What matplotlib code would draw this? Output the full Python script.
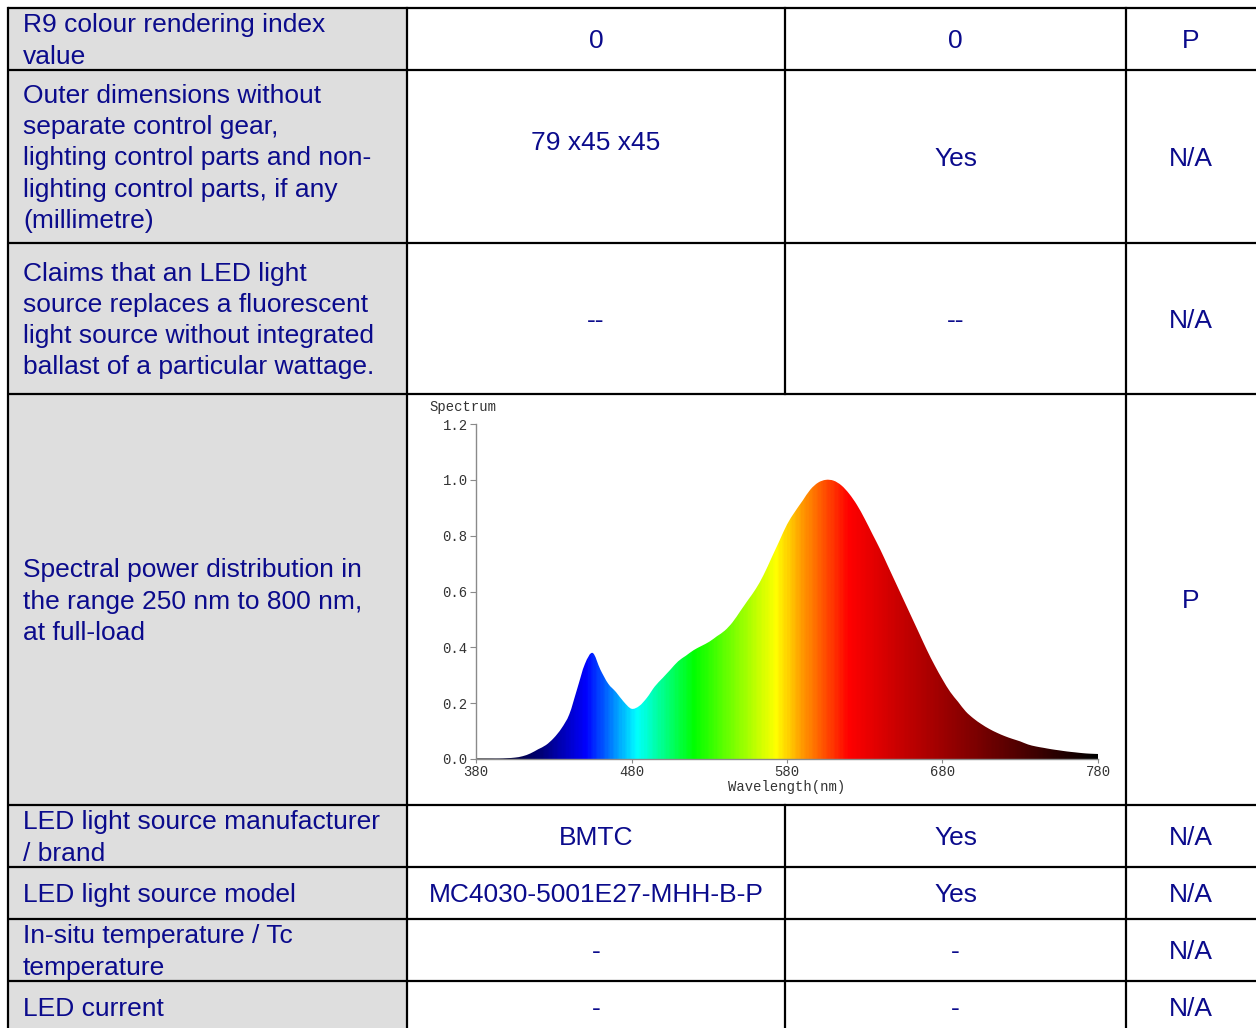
import numpy as np
import matplotlib
matplotlib.use("Agg")
import matplotlib.pyplot as plt
from matplotlib.patches import Rectangle
from matplotlib.path import Path
from matplotlib.colors import LinearSegmentedColormap

# table content
labels = [
    "R9 colour rendering index\nvalue",
    "Outer dimensions without\nseparate control gear,\nlighting control parts and non-\nlighting control parts, if any\n(millimetre)",
    "Claims that an LED light\nsource replaces a fluorescent\nlight source without integrated\nballast of a particular wattage.",
    "Spectral power distribution in\nthe range 250 nm to 800 nm,\nat full-load",
    "LED light source manufacturer\n/ brand",
    "LED light source model",
    "In-situ temperature / Tc\ntemperature",
    "LED current",
]
declared = ["0", "79 x45 x45", "--", None, "BMTC", "MC4030-5001E27-MHH-B-P", "-", "-"]
measured = ["0", "Yes", "--", None, "Yes", "Yes", "-", "-"]
verdict = ["P", "N/A", "N/A", "P", "N/A", "N/A", "N/A", "N/A"]

# spectrum, every 5 nm
wavelength = np.arange(380, 781, 5)
power = [
    0.002, 0.002, 0.002, 0.002, 0.003, 0.005, 0.010, 0.020, 0.035, 0.050,
    0.075, 0.110, 0.160, 0.250, 0.340, 0.380, 0.320, 0.270, 0.240, 0.205,
    0.180, 0.190, 0.220, 0.260, 0.290, 0.320, 0.350, 0.370, 0.390, 0.405,
    0.420, 0.440, 0.460, 0.490, 0.530, 0.570, 0.610, 0.660, 0.720, 0.780,
    0.840, 0.885, 0.925, 0.965, 0.990, 1.000, 0.997, 0.980, 0.950, 0.910,
    0.860, 0.805, 0.750, 0.690, 0.630, 0.570, 0.510, 0.450, 0.390, 0.335,
    0.285, 0.240, 0.205, 0.170, 0.145, 0.125, 0.108, 0.094, 0.082, 0.072,
    0.063, 0.052, 0.045, 0.040, 0.035, 0.031, 0.027, 0.024, 0.021, 0.019,
    0.018,
]

W, H = 1256, 1028
col_x = [8, 407, 785, 1126, 1262]
row_y = [8, 70, 243, 394, 805, 867, 919, 981, 1034]

text_color = "#0b0b8c"
cell_font = dict(family=["Liberation Sans", "DejaVu Sans"], fontsize=19, color=text_color)

fig = plt.figure(figsize=(W / 100, H / 100), dpi=100)
tab = fig.add_axes([0, 0, 1, 1])
tab.set_xlim(0, W)
tab.set_ylim(H, 0)
tab.axis("off")

# grey first column
tab.add_patch(Rectangle((col_x[0], row_y[0]), col_x[1] - col_x[0], row_y[-1] - row_y[0],
                        facecolor="#dedede", edgecolor="none"))

lw = 1.6
for y in row_y:
    tab.plot([col_x[0], col_x[-1]], [y, y], color="black", lw=lw, solid_capstyle="butt")
for i, x in enumerate(col_x[:-1]):
    if i == 2:
        # the spectrum spans columns 2 and 3
        tab.plot([x, x], [row_y[0], row_y[3]], color="black", lw=lw)
        tab.plot([x, x], [row_y[4], row_y[-1]], color="black", lw=lw)
    else:
        tab.plot([x, x], [row_y[0], row_y[-1]], color="black", lw=lw)

for r in range(len(labels)):
    yc = (row_y[r] + row_y[r + 1]) / 2 + 2
    if r == len(labels) - 1:
        yc = 1009
    tab.text(23, yc, labels[r], ha="left", va="center", linespacing=1.37, **cell_font)
    if declared[r] is not None:
        dy = -16 if r == 1 else 0
        tab.text((col_x[1] + col_x[2]) / 2, yc + dy, declared[r], ha="center", va="center", **cell_font)
    if measured[r] is not None:
        tab.text((col_x[2] + col_x[3]) / 2, yc, measured[r], ha="center", va="center", **cell_font)
    tab.text(1191, yc, verdict[r], ha="center", va="center", **cell_font)

# spectrum chart
spec_cmap = LinearSegmentedColormap.from_list("spec", [
    (0.000, (0.0, 0.0, 0.0)),
    (0.100, (0.0, 0.0, 0.45)),
    (0.175, (0.0, 0.0, 1.0)),
    (0.257, (0.0, 1.0, 1.0)),
    (0.350, (0.0, 1.0, 0.0)),
    (0.482, (1.0, 1.0, 0.0)),
    (0.525, (1.0, 0.6, 0.0)),
    (0.600, (1.0, 0.0, 0.0)),
    (0.675, (0.8, 0.0, 0.0)),
    (0.800, (0.5, 0.0, 0.0)),
    (1.000, (0.0, 0.0, 0.0)),
])

ax = fig.add_axes([476 / W, (H - 759) / H, 622 / W, 335 / H])
ax.set_xlim(380, 780)
ax.set_ylim(0, 1.2)

# smooth outline through the read points (Catmull-Rom as cubic Bezier)
pts = np.column_stack([wavelength, power])
ext = np.vstack([pts[0], pts, pts[-1]])
verts = [(wavelength[0], 0.0), tuple(pts[0])]
codes = [Path.MOVETO, Path.LINETO]
for i in range(len(pts) - 1):
    p0, p1, p2, p3 = ext[i], ext[i + 1], ext[i + 2], ext[i + 3]
    verts += [tuple(p1 + (p2 - p0) / 6), tuple(p2 - (p3 - p1) / 6), tuple(p2)]
    codes += [Path.CURVE4] * 3
verts += [(wavelength[-1], 0.0), (wavelength[0], 0.0)]
codes += [Path.LINETO, Path.CLOSEPOLY]
outline = Path(verts, codes)

grad = ax.imshow(np.linspace(0, 1, 400).reshape(1, -1), cmap=spec_cmap, aspect="auto",
                 extent=[380, 780, 0, 1.2], origin="lower", zorder=1)
grad.set_clip_path(outline, transform=ax.transData)

mono = ["Liberation Mono", "DejaVu Sans Mono"]
for side in ["top", "right"]:
    ax.spines[side].set_visible(False)
for side in ["left", "bottom"]:
    ax.spines[side].set_color("#8a8a8a")
    ax.spines[side].set_linewidth(1.0)
ax.set_xticks([380, 480, 580, 680, 780])
ax.set_yticks([0.0, 0.2, 0.4, 0.6, 0.8, 1.0, 1.2])
ax.set_yticklabels([f"{v:.1f}" for v in ax.get_yticks()])
ax.tick_params(axis="both", colors="#8a8a8a", labelcolor="#333333", length=4, width=0.8,
               labelsize=10, pad=2)
ax.tick_params(axis="x", length=3, pad=1)
for lab in ax.get_xticklabels() + ax.get_yticklabels():
    lab.set_family(mono)
ax.set_xlabel("Wavelength(nm)", family=mono, fontsize=10, color="#333333", labelpad=1)
ax.text(429 / W, (H - 407) / H, "Spectrum", transform=fig.transFigure, family=mono,
        fontsize=10, color="#333333", ha="left", va="center")
ax.set_zorder(2)

fig.savefig("out.png", dpi=100)
